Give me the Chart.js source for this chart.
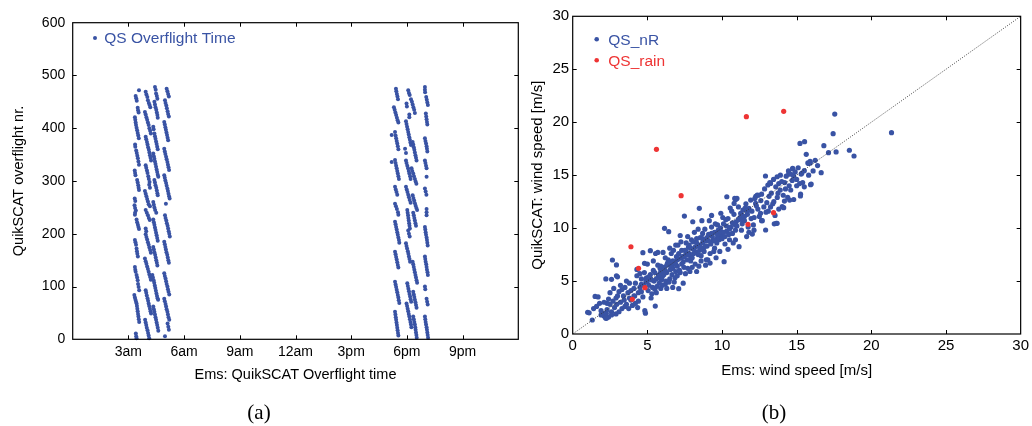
<!DOCTYPE html>
<html><head><meta charset="utf-8">
<script src="https://cdn.jsdelivr.net/npm/chart.js@4.4.1/dist/chart.umd.min.js"></script>
<style>
html,body{margin:0;padding:0;background:#fff;width:1032px;height:426px;overflow:hidden}
canvas{position:absolute;top:0}
#c1{left:0}
#c2{left:525px}
.cap{position:absolute;font-family:'Liberation Serif','DejaVu Serif',serif;font-size:21px;color:#000;transform:translate(-50%,-50%);white-space:nowrap}
</style></head><body>
<canvas id="c1" width="525" height="426"></canvas>
<canvas id="c2" width="507" height="426"></canvas>
<div class="cap" style="left:259px;top:412px">(a)</div>
<div class="cap" style="left:774px;top:412px">(b)</div>
<script>
// ---------- (a) overflight time vs overflight number: [hour, nr] ----------
const hourTickValues = [3, 6, 9, 12, 15, 18, 21];
const hourTickLabels = ['3am', '6am', '9am', '12am', '3pm', '6pm', '9pm'];
const nrTickValues = [100, 200, 300, 400, 500];

const colA = [[3.57,472],[3.39,461],[3.42,457],[3.45,452],[3.50,439],[3.52,434],[3.55,430],[3.35,421],[3.37,416],[3.39,411],[3.41,406],[3.44,401],[3.47,396],[3.50,391],[3.53,386],[3.56,381],[3.36,369],[3.37,365],[3.42,358],[3.45,353],[3.48,348],[3.51,343],[3.54,337],[3.57,331],[3.34,320],[3.36,315],[3.38,311],[3.47,302],[3.50,297],[3.53,292],[3.55,287],[3.57,283],[3.34,267],[3.37,262],[3.33,254],[3.36,249],[3.40,244],[3.36,240],[3.35,236],[3.44,227],[3.47,222],[3.51,217],[3.54,213],[3.57,209],[3.35,188],[3.38,184],[3.41,179],[3.44,172],[3.46,167],[3.48,162],[3.51,157],[3.35,137],[3.37,132],[3.39,128],[3.44,122],[3.47,117],[3.50,112],[3.52,105],[3.55,99],[3.58,93],[3.32,84],[3.35,79],[3.38,75],[3.41,71],[3.44,68],[3.46,63],[3.48,58],[3.50,53],[3.52,48],[3.54,43],[3.56,38],[3.58,33],[3.40,11],[3.42,6],[3.44,2]];
const colB = [[3.93,469],[3.97,464],[4.02,459],[4.05,453],[4.10,448],[4.14,444],[4.18,440],[3.89,431],[3.93,426],[3.97,421],[4.01,416],[4.05,411],[4.09,406],[4.13,400],[4.17,395],[4.21,390],[3.93,384],[3.96,379],[4.00,374],[4.03,369],[4.06,364],[4.10,359],[4.13,354],[4.16,349],[4.19,344],[4.22,339],[3.93,330],[3.96,325],[4.00,320],[4.03,315],[4.07,309],[4.10,304],[4.14,298],[4.12,293],[4.16,287],[3.89,281],[3.93,276],[3.97,271],[4.01,266],[4.05,261],[4.09,256],[4.16,252],[3.93,245],[3.99,240],[4.05,235],[4.10,230],[4.15,226],[3.93,210],[3.96,205],[3.93,199],[3.97,194],[4.01,189],[4.05,184],[4.09,179],[4.13,174],[4.17,169],[4.21,164],[3.89,153],[3.93,148],[3.97,143],[4.01,138],[4.05,133],[4.09,128],[4.13,123],[4.17,118],[4.21,113],[3.93,93],[3.96,88],[3.99,83],[4.03,78],[4.06,73],[4.09,68],[4.12,63],[4.16,58],[4.19,53],[4.22,49],[3.90,37],[3.93,32],[3.96,27],[3.99,22],[4.03,17],[4.06,12],[4.09,7],[4.12,2]];
const colC = [[4.43,478],[4.47,473],[4.49,466],[4.53,461],[4.56,456],[4.40,450],[4.43,445],[4.46,440],[4.50,435],[4.53,430],[4.56,425],[4.58,420],[4.34,403],[4.36,398],[4.40,390],[4.43,385],[4.46,380],[4.49,375],[4.52,370],[4.55,365],[4.58,360],[4.34,352],[4.37,347],[4.40,342],[4.43,337],[4.46,332],[4.49,327],[4.52,322],[4.55,317],[4.58,312],[4.61,308],[4.40,302],[4.43,297],[4.46,292],[4.50,287],[4.53,282],[4.56,277],[4.58,273],[4.34,260],[4.37,255],[4.40,250],[4.44,245],[4.50,240],[4.34,227],[4.37,222],[4.40,217],[4.43,212],[4.46,207],[4.49,202],[4.52,197],[4.55,192],[4.58,187],[4.34,175],[4.37,170],[4.40,165],[4.44,160],[4.47,155],[4.50,150],[4.53,145],[4.56,140],[4.29,122],[4.32,117],[4.36,112],[4.39,107],[4.42,102],[4.45,97],[4.48,92],[4.51,87],[4.54,82],[4.57,78],[4.60,75],[4.34,62],[4.37,57],[4.40,52],[4.43,47],[4.46,42],[4.49,37],[4.52,32],[4.55,27],[4.58,22],[4.61,16]];
const colD = [[5.06,475],[5.10,470],[5.14,465],[5.18,460],[4.97,453],[5.00,448],[5.04,443],[5.07,438],[5.11,432],[5.14,427],[5.18,422],[4.93,412],[4.96,407],[4.99,402],[5.02,397],[5.05,392],[5.08,387],[5.11,382],[5.14,377],[4.93,361],[4.96,356],[4.99,351],[5.03,346],[5.06,341],[5.10,336],[5.13,331],[5.16,326],[5.19,321],[4.93,311],[4.96,306],[4.99,301],[5.03,296],[5.06,291],[5.10,286],[5.13,281],[5.16,276],[5.19,271],[5.22,267],[5.02,257],[4.97,235],[5.00,230],[5.04,225],[5.07,220],[5.11,215],[5.14,210],[5.17,205],[5.20,200],[5.23,195],[4.93,185],[4.96,180],[4.99,175],[5.02,170],[5.05,165],[5.09,160],[5.12,155],[5.15,150],[5.18,145],[4.93,125],[4.96,120],[5.00,115],[5.03,110],[5.06,105],[5.10,100],[5.13,95],[5.16,90],[5.20,85],[4.93,77],[4.96,72],[5.00,67],[5.03,62],[5.06,57],[5.10,52],[5.13,47],[5.16,42],[5.20,37],[5.11,30],[5.15,24],[5.18,18],[4.97,6]];
const colE = [[17.41,475],[17.43,470],[17.46,465],[17.49,460],[17.52,455],[17.30,440],[17.34,435],[17.38,430],[17.42,425],[17.46,420],[17.50,415],[17.54,411],[17.18,387],[17.36,393],[17.39,386],[17.42,381],[17.45,376],[17.48,371],[17.51,366],[17.54,360],[17.18,336],[17.36,340],[17.39,334],[17.42,329],[17.45,324],[17.48,319],[17.51,314],[17.54,309],[17.57,304],[17.36,289],[17.40,284],[17.44,279],[17.48,274],[17.36,257],[17.41,252],[17.46,247],[17.52,241],[17.54,236],[17.36,223],[17.39,218],[17.42,213],[17.45,208],[17.48,203],[17.51,198],[17.54,193],[17.57,188],[17.59,183],[17.36,166],[17.39,161],[17.42,156],[17.45,151],[17.48,146],[17.51,141],[17.54,136],[17.36,109],[17.39,104],[17.42,99],[17.45,94],[17.48,89],[17.51,84],[17.54,79],[17.56,74],[17.59,69],[17.36,52],[17.38,47],[17.40,42],[17.42,37],[17.44,32],[17.46,27],[17.48,22],[17.50,17],[17.52,12],[17.54,7]];
const colF = [[18.07,472],[18.11,467],[18.15,463],[17.98,447],[18.00,441],[18.22,455],[18.27,450],[18.31,445],[18.35,440],[18.39,435],[18.43,429],[18.13,426],[18.13,421],[17.95,413],[17.98,408],[18.01,403],[18.04,398],[18.07,393],[18.10,388],[18.13,383],[18.16,378],[18.19,373],[18.22,368],[18.31,374],[18.34,369],[18.37,364],[18.40,359],[18.43,354],[18.46,349],[18.49,344],[18.52,339],[17.90,361],[17.95,353],[17.95,339],[17.98,334],[18.02,329],[18.06,324],[18.10,319],[18.13,314],[18.17,309],[18.20,304],[18.25,324],[18.29,319],[18.34,314],[18.38,309],[18.43,304],[18.47,299],[18.51,295],[17.95,289],[17.99,284],[18.03,279],[18.07,274],[18.11,269],[18.15,264],[18.20,259],[18.31,273],[18.35,268],[18.39,263],[18.43,258],[18.47,253],[18.51,249],[18.55,245],[18.02,245],[18.04,240],[18.06,235],[18.08,230],[18.10,225],[18.12,220],[18.14,215],[18.16,210],[18.34,240],[18.37,235],[18.40,230],[18.43,225],[18.46,220],[18.49,215],[18.07,206],[18.11,200],[18.15,195],[17.95,182],[17.98,177],[18.01,172],[18.05,167],[18.08,162],[18.11,157],[18.14,152],[18.17,147],[18.31,147],[18.34,142],[18.37,137],[18.40,132],[18.43,127],[18.46,122],[18.49,117],[18.52,112],[18.55,107],[18.02,106],[18.05,101],[18.08,96],[18.11,91],[18.14,86],[18.17,81],[18.20,76],[18.23,71],[18.34,90],[18.37,85],[18.40,80],[18.43,75],[18.46,70],[18.49,65],[18.52,60],[17.98,68],[18.01,63],[18.04,58],[18.07,53],[18.10,48],[18.13,43],[18.16,38],[18.19,33],[18.22,28],[18.24,23],[18.34,43],[18.37,38],[18.40,33],[18.43,28],[18.45,23],[18.47,18],[18.49,13],[18.51,8],[18.53,3]];
const colH = [[18.97,478],[18.97,473],[18.98,468],[19.04,459],[19.07,454],[19.10,449],[19.13,444],[19.02,428],[19.04,422],[19.06,417],[19.08,412],[19.10,407],[18.97,381],[19.00,376],[19.03,371],[19.06,366],[19.08,361],[19.10,356],[18.97,339],[19.00,334],[19.03,329],[19.06,324],[19.06,308],[18.97,286],[19.01,280],[19.05,274],[19.06,247],[19.06,241],[19.06,235],[18.97,213],[18.99,208],[19.01,203],[19.03,198],[19.06,193],[19.08,188],[19.10,183],[19.12,178],[18.97,157],[18.99,152],[19.01,147],[19.04,142],[19.06,137],[19.08,132],[19.11,127],[19.13,122],[18.97,100],[18.99,95],[19.06,77],[19.09,71],[19.12,66],[18.97,43],[18.99,38],[19.01,33],[19.03,28],[19.06,23],[19.08,18],[19.10,13],[19.12,8],[19.14,3]];

// ---------- (b) wind speed comparison: [Ems, QuikSCAT] ----------
const windTickValues = [5, 10, 15, 20, 25];
const diagEnds = [0, 30];
const rainWind = [[3.90,8.24],[4.41,6.2],[4.84,4.37],[3.99,3.28],[5.61,17.44],[7.26,13.06],[11.63,20.52],[14.13,21.03],[11.74,10.36],[13.45,11.46]];
const blueWind = [
[1.0,2.05],[1.1,2.0],[1.31,1.32],[1.5,3.55],[1.7,3.5],[1.6,2.6],[1.8,2.9],[1.9,2.2],[1.9,1.8],[1.4,2.4],
[2.1,1.7],[2.2,1.5],[2.25,1.95],[2.3,2.3],[2.4,1.6],[2.5,2.8],[2.6,5.16],[2.66,6.99],[2.7,3.1],[2.22,5.2],[2.8,2.5],[2.9,3.4],[2.5,3.9],[2.3,2.9],[2.6,2.1],[2.9,1.9],[2.75,4.3],[2.4,3.3],[2.95,2.8],[2.1,3.0],[2.6,1.8],[2.26,1.48],[2.15,1.95],
[3.0,5.4],[2.93,5.5],[2.93,6.52],[3.1,4.0],[3.2,3.0],[3.3,2.4],[3.4,3.6],[3.5,4.4],[3.6,2.8],[3.7,3.9],[3.8,4.8],[3.9,3.2],[3.2,4.6],[3.5,2.6],[3.8,3.4],[3.1,2.1],[3.6,5.0],[3.45,3.2],[3.9,4.1],[3.3,4.2],[3.75,2.4],[3.0,3.6],
[4.0,2.7],[4.1,3.6],[4.15,3.59],[4.2,4.8],[4.3,5.5],[4.4,3.9],[4.5,4.4],[4.6,5.2],[4.7,7.68],[4.81,6.67],[4.83,2.2],[4.87,1.97],[4.2,2.9],[4.4,3.1],[4.6,4.0],[4.8,5.8],[4.9,4.9],[4.1,4.3],[4.3,6.1],[4.5,5.7],[4.7,3.5],[4.95,5.3],[4.35,2.5],[4.75,4.6],
[5.0,5.0],[5.1,4.6],[5.2,7.87],[5.2,5.6],[5.3,3.8],[5.4,6.0],[5.5,4.23],[5.53,2.64],[5.6,5.2],[5.7,6.5],[5.8,4.8],[5.9,5.9],[5.0,6.6],[5.15,5.3],[5.35,4.4],[5.45,5.0],[5.55,7.6],[5.65,4.5],[5.75,5.5],[5.85,6.2],[5.95,5.1],[5.25,3.4],[5.6,3.9],[5.9,4.3],[5.05,4.1],[5.4,6.9],[5.7,7.7],
[6.0,5.4],[6.1,6.3],[6.15,9.98],[6.2,4.7],[6.3,5.8],[6.4,7.0],[6.43,9.66],[6.5,5.2],[6.55,6.1],[6.6,7.6],[6.7,4.4],[6.8,6.6],[6.9,5.9],[6.95,7.3],[6.05,7.7],[6.25,5.0],[6.35,6.7],[6.45,4.9],[6.65,5.6],[6.75,7.9],[6.85,5.3],[6.0,4.6],[6.2,7.2],[6.5,8.1],[6.6,6.4],[6.8,4.9],[6.9,8.4],[6.3,4.3],[6.7,6.2],[6.1,5.6],
[7.0,6.4],[7.1,4.28],[7.1,7.1],[7.2,5.8],[7.3,7.9],[7.4,6.8],[7.48,11.14],[7.5,7.4],[7.55,5.7],[7.6,8.6],[7.7,6.2],[7.8,7.6],[7.9,6.9],[7.95,8.9],[7.05,8.4],[7.15,6.0],[7.25,8.7],[7.35,7.3],[7.45,6.3],[7.65,7.0],[7.75,8.2],[7.85,5.9],[7.0,5.5],[7.3,6.6],[7.6,7.8],[7.9,7.3],[7.2,9.3],[7.7,9.2],[7.4,4.8],
[8.0,7.2],[8.04,10.6],[8.1,8.0],[8.2,6.6],[8.3,9.0],[8.4,7.5],[8.48,11.87],[8.5,8.4],[8.6,6.9],[8.65,10.7],[8.7,9.5],[8.8,7.8],[8.9,8.8],[8.95,7.0],[8.05,8.7],[8.15,9.6],[8.25,7.7],[8.35,8.3],[8.45,6.4],[8.55,9.1],[8.75,8.1],[8.85,9.9],[8.0,6.3],[8.4,9.9],[8.6,7.4],[8.9,6.5],[8.3,5.9],[8.7,8.6],
[9.0,8.3],[9.1,9.4],[9.2,7.6],[9.3,10.1],[9.4,8.8],[9.5,9.6],[9.6,7.2],[9.7,10.3],[9.8,8.9],[9.92,11.4],[9.05,7.0],[9.15,10.7],[9.25,8.5],[9.35,9.2],[9.45,7.8],[9.55,10.4],[9.65,8.6],[9.75,9.8],[9.85,7.8],[9.95,9.3],[9.2,6.7],[9.5,8.1],[9.9,10.0],[9.3,11.2],[9.7,9.1],
[10.0,9.0],[10.14,6.83],[10.1,10.4],[10.2,8.5],[10.3,9.7],[10.32,12.96],[10.4,10.9],[10.5,8.9],[10.6,10.1],[10.7,9.5],[10.8,11.3],[10.85,12.8],[10.92,12.71],[10.81,12.33],[10.9,9.8],[11.0,12.8],[10.05,11.0],[10.25,10.8],[10.45,9.4],[10.65,11.6],[10.75,8.6],[10.95,10.6],[10.2,9.2],[10.55,11.9],[10.9,8.9],[10.4,8.0],
[11.0,10.2],[11.14,8.25],[11.2,11.0],[11.3,9.8],[11.36,10.76],[11.4,11.7],[11.5,10.7],[11.6,12.3],[11.7,11.3],[11.8,11.86],[11.8,9.6],[11.92,12.65],[11.95,10.9],[11.1,12.0],[11.35,10.4],[11.55,11.9],[11.75,10.1],[11.25,11.4],[11.65,9.2],
[12.0,11.6],[12.03,9.44],[12.14,9.8],[12.1,10.3],[12.25,12.33],[12.26,13.0],[12.36,13.12],[12.3,12.1],[12.44,13.1],[12.5,11.1],[12.58,11.4],[12.65,10.7],[12.6,12.6],[12.7,10.7],[12.8,12.0],[12.91,14.92],[12.92,9.82],[12.95,11.5],[12.2,12.8],[12.4,11.8],[12.65,13.2],[12.85,13.7],[12.15,11.0],
[13.0,12.4],[13.07,14.07],[13.25,14.22],[13.2,14.3],[13.1,11.6],[13.3,13.3],[13.4,12.3],[13.47,12.5],[13.5,10.4],[13.63,10.45],[13.69,10.45],[13.6,13.9],[13.7,12.9],[13.69,14.85],[13.8,11.8],[13.8,14.2],[13.9,13.6],[13.91,15.0],[14.0,14.4],[14.03,12.02],[13.15,13.0],[13.45,14.6],[13.55,11.2],[13.25,12.0],[13.75,13.3],
[14.13,11.93],[14.18,12.55],[14.2,14.3],[14.4,12.9],[14.3,14.9],[14.47,15.1],[14.5,14.0],[14.53,12.65],[14.6,13.6],[14.73,15.64],[14.74,15.6],[14.8,12.7],[14.8,14.9],[14.9,15.3],[14.1,13.1],[14.45,15.4],[14.7,14.5],[14.25,13.7],[14.6,15.1],
[15.0,14.0],[15.0,14.6],[15.2,14.2],[15.22,18.0],[15.26,13.2],[15.25,13.03],[15.35,15.2],[15.3,15.1],[15.51,15.42],[15.51,13.9],[15.53,18.16],[15.64,16.97],[15.75,16.15],[15.8,16.1],[15.9,16.3],[15.91,16.15],[15.93,14.1],[15.97,14.16],[15.4,14.3],[15.1,15.7],[15.8,15.0],
[16.1,15.4],[16.24,16.4],[16.4,15.9],[16.64,15.23],[16.82,17.78],[17.13,17.12],[17.44,18.92],[17.55,20.77],[17.64,17.19],[18.53,17.35],[18.84,16.81],[21.35,19.01],
[4.6,4.7],[4.9,5.2],[5.1,5.4],[5.3,5.1],[5.5,5.8],[5.7,5.3],[5.9,6.4],[6.1,5.9],[6.3,6.5],[6.5,6.8],[6.7,6.9],[6.9,6.6],[7.1,7.6],[7.3,7.2],[7.5,7.9],[7.7,7.5],[7.9,8.1],[8.1,7.6],[8.3,8.6],[8.5,7.9],[8.7,9.0],[8.9,8.3],[9.1,8.8],[9.3,9.5],[9.5,8.9],[9.7,9.4],[9.9,9.7],[10.1,9.6],[10.3,10.2],[10.5,9.9],[10.7,10.5],[10.9,10.3],[11.1,10.8],[11.3,11.3],[11.5,11.1],[11.7,11.6],[5.8,5.6],[6.6,6.2],[7.4,7.3],[8.2,8.2],[9.0,9.1],[6.2,6.0],[7.0,7.0],[7.8,8.4],[8.6,8.1]
];

const BLUE = '#3953a4';
const RED = '#ee3434';
const FONT = "'Liberation Sans', Arial, Helvetica, sans-serif";
const toXY = a => a.map(p => ({x: p[0], y: p[1]}));

const boxTicks = {
  id: 'boxTicks',
  afterDatasetsDraw(chart, args, o) {
    const {ctx, chartArea: a, scales} = chart;
    const L = o.len;
    ctx.save();
    ctx.strokeStyle = '#000';
    ctx.lineWidth = 1;
    ctx.beginPath();
    o.xTicks.forEach(v => {
      const p = Math.round(scales.x.getPixelForValue(v)) + 0.5;
      ctx.moveTo(p, a.bottom); ctx.lineTo(p, a.bottom - L);
      ctx.moveTo(p, a.top); ctx.lineTo(p, a.top + L);
    });
    o.yTicks.forEach(v => {
      const p = Math.round(scales.y.getPixelForValue(v)) + 0.5;
      ctx.moveTo(a.left, p); ctx.lineTo(a.left + L, p);
      ctx.moveTo(a.right, p); ctx.lineTo(a.right - L, p);
    });
    ctx.stroke();
    ctx.lineWidth = o.frameWidth;
    ctx.strokeRect(a.left, a.top, a.right - a.left, a.bottom - a.top);
    ctx.font = o.legendFont;
    ctx.textBaseline = 'middle';
    ctx.textAlign = 'left';
    o.legend.forEach(it => {
      const ds = chart.data.datasets[it.index];
      ctx.fillStyle = ds.backgroundColor;
      ctx.beginPath();
      ctx.arc(a.left + it.dx, a.top + it.dy, it.r, 0, Math.PI * 2);
      ctx.fill();
      ctx.fillText(ds.label, a.left + it.tx, a.top + it.dy + 1);
    });
    ctx.restore();
  }
};

Chart.defaults.font.family = FONT;
Chart.defaults.color = '#000';

// ---------- chart (a) ----------
new Chart(document.getElementById('c1'), {
  type: 'scatter',
  data: {
    datasets: [{
      label: 'QS Overflight Time',
      data: toXY([].concat(colA, colB, colC, colD, colE, colF, colH)),
      backgroundColor: BLUE,
      pointRadius: 2.0,
      pointBorderWidth: 0,
      pointHoverRadius: 2.0,
      clip: false
    }]
  },
  options: {
    responsive: false,
    animation: false,
    events: [],
    layout: {padding: {left: 0, top: 22.7, right: 6.7, bottom: 0}},
    plugins: {
      legend: {display: false},
      tooltip: {enabled: false},
      boxTicks: {len: 4, frameWidth: 1.2, xTicks: hourTickValues, yTicks: nrTickValues,
        legendFont: "15.5px " + FONT,
        legend: [{index: 0, dx: 22.3, dy: 15.3, r: 2.0, tx: 31.6}]}
    },
    scales: {
      x: {
        type: 'linear', min: 0, max: 24,
        grid: {display: false, drawTicks: false}, border: {display: false},
        afterFit: s => { s.height = 86.7; },
        ticks: {stepSize: 3, autoSkip: false, maxRotation: 0, padding: 4, font: {size: 14},
          callback: v => { const i = hourTickValues.indexOf(v); return i >= 0 ? hourTickLabels[i] : ''; }},
        title: {display: true, text: 'Ems: QuikSCAT Overflight time', font: {size: 14.5}, padding: {top: 0, bottom: 42}}
      },
      y: {
        type: 'linear', min: 0, max: 600,
        grid: {display: false, drawTicks: false}, border: {display: false},
        afterFit: s => { s.width = 72.7; },
        ticks: {stepSize: 100, padding: 7.5, font: {size: 14}},
        title: {display: true, text: 'QuikSCAT overflight nr.', font: {size: 14.5}, padding: {top: 10, bottom: 0}}
      }
    }
  },
  plugins: [boxTicks]
});

// ---------- chart (b) ----------
new Chart(document.getElementById('c2'), {
  type: 'scatter',
  data: {
    datasets: [{
      type: 'line',
      label: 'diag',
      data: diagEnds.map(v => ({x: v, y: v})),
      borderColor: '#333',
      backgroundColor: '#333',
      borderWidth: 0.9,
      borderDash: [1, 1.5],
      pointRadius: 0,
      fill: false
    }, {
      label: 'QS_rain',
      data: toXY(rainWind),
      backgroundColor: RED,
      pointRadius: 2.6,
      pointBorderWidth: 0,
      pointHoverRadius: 2.6,
      clip: false
    }, {
      label: 'QS_nR',
      data: toXY(blueWind),
      backgroundColor: BLUE,
      pointRadius: 2.6,
      pointBorderWidth: 0,
      pointHoverRadius: 2.6,
      clip: false
    }]
  },
  options: {
    responsive: false,
    animation: false,
    events: [],
    layout: {padding: {left: 0, top: 16.3, right: 8.7, bottom: 0}},
    plugins: {
      legend: {display: false},
      tooltip: {enabled: false},
      boxTicks: {len: 4, frameWidth: 1.2, xTicks: windTickValues, yTicks: windTickValues,
        legendFont: "15.5px " + FONT,
        legend: [{index: 2, dx: 24, dy: 23, r: 2.3, tx: 35.6}, {index: 1, dx: 24, dy: 44, r: 2.3, tx: 35.6}]}
    },
    scales: {
      x: {
        type: 'linear', min: 0, max: 30,
        grid: {display: false, drawTicks: false}, border: {display: false},
        afterFit: s => { s.height = 92; },
        ticks: {stepSize: 5, autoSkip: false, maxRotation: 0, padding: 3, font: {size: 15}},
        title: {display: true, text: 'Ems: wind speed [m/s]', font: {size: 15}, padding: {top: 0, bottom: 46.3}}
      },
      y: {
        type: 'linear', min: 0, max: 30,
        grid: {display: false, drawTicks: false}, border: {display: false},
        afterFit: s => { s.width = 47.7; },
        ticks: {stepSize: 5, padding: 3.5, font: {size: 15}},
        title: {display: true, text: 'QuikSCAT: wind speed [m/s]', font: {size: 15}, padding: {top: 4, bottom: 0}}
      }
    }
  },
  plugins: [boxTicks]
});
</script>
</body></html>
